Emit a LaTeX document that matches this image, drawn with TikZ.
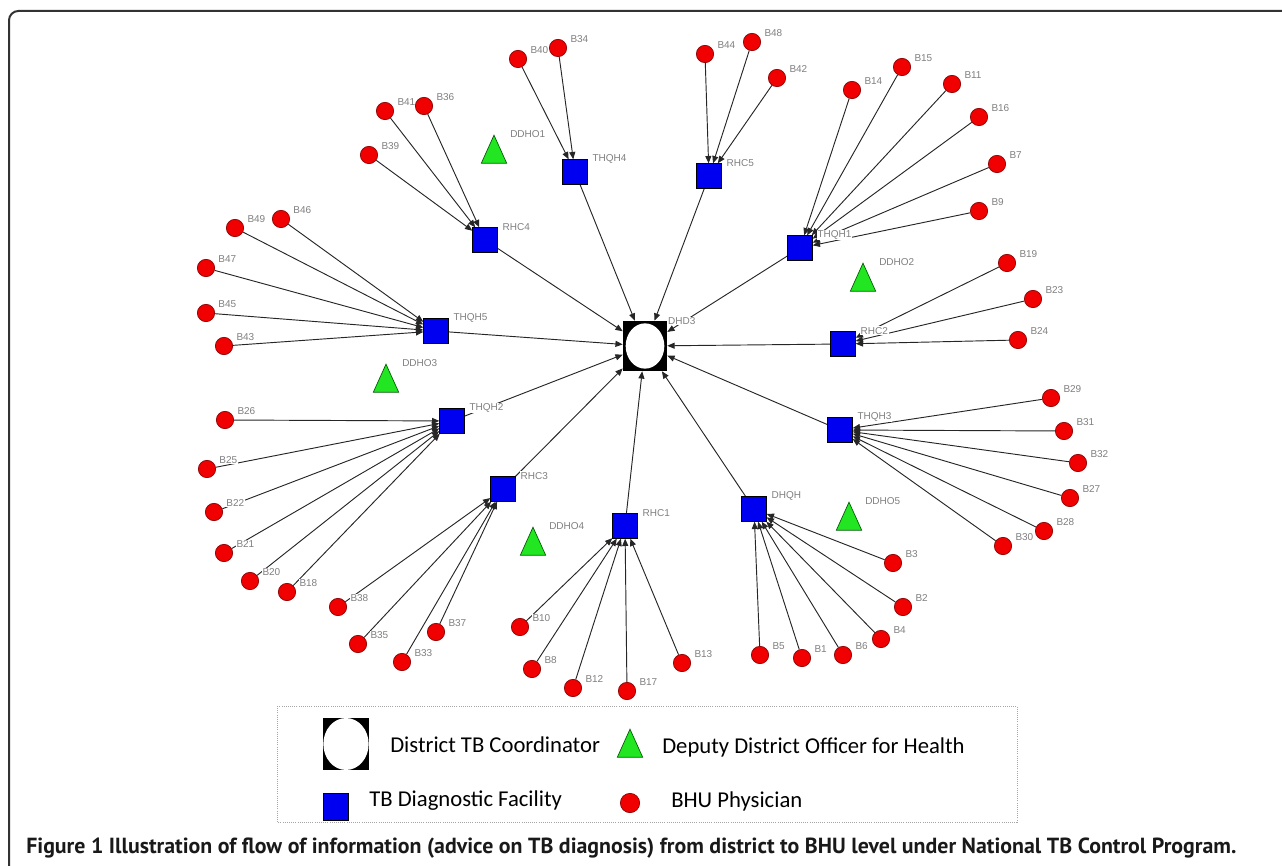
\documentclass[tikz,border=0pt]{standalone}
\usepackage{fontspec}
\newfontfamily\labelfont{Liberation Sans}
\newfontfamily\legendfont{Carlito}
\newfontfamily\captionfont{PT Sans}
\usetikzlibrary{arrows.meta,shapes.geometric,backgrounds}

\colorlet{label color}{black!50}
\definecolor{facility color}{HTML}{0000F0}
\definecolor{physician color}{HTML}{F00000}
\definecolor{officer color}{HTML}{22E622}
\tikzset{
    x={0.75pt},
    y={-0.75pt},
    frame/.style={
        draw=black!80,
        line width={1.5pt},
        rounded corners={7pt},
    },
    name label/.style={
        font={\labelfont\fontsize{7.5}{9}\selectfont},
        text=label color,
        fill=white,
        inner sep=0.5pt,
        anchor=west,
    },
    link/.style={
        draw=black!85,
        line width={0.7pt},
        -{Triangle[length=5.5pt,width=4.5pt]},
    },
    hub/.style 2 args={
        rectangle, fill=black,
        inner sep=0pt,
        path picture={
            \fill[white] (path picture bounding box.center)
                ellipse [x radius={#1}, y radius={#2}];
        },
    },
    coordinator/.style={
        hub={14.5pt}{17pt},
        minimum width={33pt},
        minimum height={37.5pt},
        label={[name label]north east:#1},
    },
    facility/.style={
        rectangle, draw=black, fill=facility color,
        line width={0.5pt},
        inner sep=0pt,
        minimum size={18.5pt},
        label={[name label, xshift=3pt, yshift=0.5pt]north east:#1},
    },
    facility/.default={},
    physician/.style={
        circle, draw=red!55!black, fill=physician color,
        line width={0.5pt},
        inner sep=0pt,
        minimum size={13pt},
        label={[name label, xshift=3.9pt, yshift=2.15pt]north east:#1},
    },
    physician/.default={},
    officer/.style={
        isosceles triangle, shape border rotate=90,
        isosceles triangle stretches,
        draw=green!35!black, fill=officer color,
        line width={0.5pt},
        inner sep=0pt,
        minimum width={19pt},
        minimum height={21pt},
        label={[name label, xshift=11.5pt, yshift=0pt]90:#1},
    },
    officer/.default={},
    legend frame/.style={
        draw=black!35,
        densely dotted,
        line width={0.6pt},
    },
    legend text/.style={
        font={\legendfont\fontsize{17}{20}\selectfont},
        anchor=west,
        inner sep=0pt,
    },
    caption text/.style={
        font={\captionfont\bfseries\fontsize{16.4}{19}\selectfont},
        text=black!90,
        anchor=base west,
        inner sep=0pt,
    },
}

\begin{document}
\begin{tikzpicture}
\useasboundingbox (0,0) rectangle (1282,866);
% frame
\path[frame] (9,866) -- (9,11) -- (1282,11);
% district
\node[coordinator={DHD3}] (dhd3) at (645,346) {};
% diagnostic facilities
\node[facility={THQH4}] (thqh4) at (575,172) {};
\node[facility={RHC5}] (rhc5) at (709,176) {};
\node[facility={THQH1}] (thqh1) at (800,248) {};
\node[facility={RHC4}] (rhc4) at (485,240) {};
\node[facility={THQH5}] (thqh5) at (436,331) {};
\node[facility={THQH2}] (thqh2) at (452,421) {};
\node[facility={RHC3}] (rhc3) at (503,489) {};
\node[facility={RHC1}] (rhc1) at (625,526) {};
\node[facility={DHQH}] (dhqh) at (754,509) {};
\node[facility={THQH3}] (thqh3) at (840,430) {};
\node[facility={RHC2}] (rhc2) at (843,344) {};
% deputy officers
\node[officer={DDHO1}] (ddho1) at (494,155) {};
\node[officer={DDHO2}] (ddho2) at (863,283) {};
\node[officer={DDHO3}] (ddho3) at (386,384) {};
\node[officer={DDHO4}] (ddho4) at (533,547) {};
\node[officer={DDHO5}] (ddho5) at (849,522) {};
% physicians
\node[physician={B40}] (b40) at (518,59) {};
\node[physician={B34}] (b34) at (558,48) {};
\node[physician={B44}] (b44) at (705,54) {};
\node[physician={B48}] (b48) at (752,42) {};
\node[physician={B42}] (b42) at (777,78) {};
\node[physician={B14}] (b14) at (852,90) {};
\node[physician={B15}] (b15) at (902,67) {};
\node[physician={B11}] (b11) at (952,84) {};
\node[physician={B16}] (b16) at (979,117) {};
\node[physician={B7}] (b7) at (997,164) {};
\node[physician={B9}] (b9) at (979,211) {};
\node[physician={B41}] (b41) at (385,111) {};
\node[physician={B36}] (b36) at (424,106) {};
\node[physician={B39}] (b39) at (369,155) {};
\node[physician={B49}] (b49) at (235,228) {};
\node[physician={B46}] (b46) at (281,219) {};
\node[physician={B47}] (b47) at (206,268) {};
\node[physician={B45}] (b45) at (206,313) {};
\node[physician={B43}] (b43) at (224,346) {};
\node[physician={B26}] (b26) at (225,420) {};
\node[physician={B25}] (b25) at (207,469) {};
\node[physician={B22}] (b22) at (214,512) {};
\node[physician={B21}] (b21) at (224,553) {};
\node[physician={B20}] (b20) at (250,581) {};
\node[physician={B18}] (b18) at (287,592) {};
\node[physician={B38}] (b38) at (338,607) {};
\node[physician={B35}] (b35) at (358,644) {};
\node[physician={B33}] (b33) at (402,662) {};
\node[physician={B37}] (b37) at (436,632) {};
\node[physician={B10}] (b10) at (520,627) {};
\node[physician={B8}] (b8) at (532,669) {};
\node[physician={B12}] (b12) at (573,688) {};
\node[physician={B17}] (b17) at (627,691) {};
\node[physician={B13}] (b13) at (682,663) {};
\node[physician={B5}] (b5) at (760,655) {};
\node[physician={B1}] (b1) at (802,658) {};
\node[physician={B6}] (b6) at (843,655) {};
\node[physician={B4}] (b4) at (881,639) {};
\node[physician={B2}] (b2) at (903,607) {};
\node[physician={B3}] (b3) at (893,563) {};
\node[physician={B29}] (b29) at (1051,398) {};
\node[physician={B31}] (b31) at (1064,431) {};
\node[physician={B32}] (b32) at (1078,463) {};
\node[physician={B27}] (b27) at (1070,498) {};
\node[physician={B28}] (b28) at (1044,531) {};
\node[physician={B30}] (b30) at (1003,546) {};
\node[physician={B19}] (b19) at (1007,263) {};
\node[physician={B23}] (b23) at (1033,299) {};
\node[physician={B24}] (b24) at (1018,340) {};
% links
\begin{scope}[on background layer]
\foreach \b in {b40,b34} \draw[link] (\b) -- (thqh4);
\foreach \b in {b44,b48,b42} \draw[link] (\b) -- (rhc5);
\foreach \b in {b14,b15,b11,b16,b7,b9} \draw[link] (\b) -- (thqh1);
\foreach \b in {b41,b36,b39} \draw[link] (\b) -- (rhc4);
\foreach \b in {b49,b46,b47,b45,b43} \draw[link] (\b) -- (thqh5);
\foreach \b in {b26,b25,b22,b21,b20,b18} \draw[link] (\b) -- (thqh2);
\foreach \b in {b38,b35,b33,b37} \draw[link] (\b) -- (rhc3);
\foreach \b in {b10,b8,b12,b17,b13} \draw[link] (\b) -- (rhc1);
\foreach \b in {b5,b1,b6,b4,b2,b3} \draw[link] (\b) -- (dhqh);
\foreach \b in {b29,b31,b32,b27,b28,b30} \draw[link] (\b) -- (thqh3);
\foreach \b in {b19,b23,b24} \draw[link] (\b) -- (rhc2);
\foreach \f in {thqh4,rhc5,thqh1,rhc4,thqh5,thqh2,rhc3,rhc1,dhqh,thqh3,rhc2}
    \draw[link] (\f) -- (dhd3);
\end{scope}
% legend
\path[legend frame] (277,706) rectangle (1017,822);
\node[hub={17pt}{19.5pt}, minimum width={35pt}, minimum height={39pt}] (key dhd) at (346,744) {};
\node[legend text] (key dhd text) at (390,745) {District TB Coordinator};
\node[officer, minimum width={19pt}, minimum height={21pt}] (key ddho) at (630,749) {};
\node[legend text] (key ddho text) at (662,747) {Deputy District Officer for Health};
\node[facility, minimum width={19pt}, minimum height={20pt}] (key facility) at (336,807) {};
\node[legend text] (key facility text) at (369,801) {TB Diagnostic Facility};
\node[physician, minimum width={13.5pt}, minimum height={14.5pt}] (key bhu) at (630,803) {};
\node[legend text] (key bhu text) at (671,801) {BHU Physician};
% caption
\node[caption text] (caption) at (26,853) {Figure 1 Illustration of flow of information (advice on TB diagnosis) from district to BHU level under National TB Control Program.};
\end{tikzpicture}
\end{document}
